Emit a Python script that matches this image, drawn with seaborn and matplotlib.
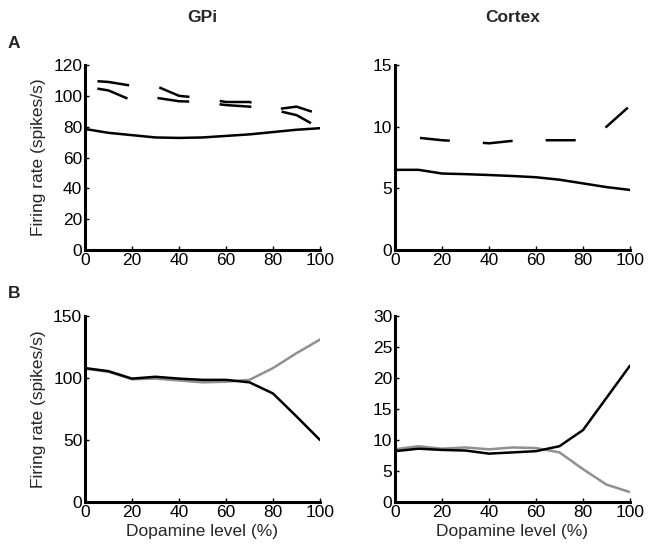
import numpy as np
import pandas as pd
import matplotlib
matplotlib.use("Agg")
import matplotlib.pyplot as plt
import seaborn as sns

# ---- data ----
dopamine = [0, 10, 20, 30, 40, 50, 60, 70, 80, 90, 100]

# Panel A, GPi
gpi_a_solid = [78.5, 76, 74.5, 73, 72.7, 73, 74, 75, 76.5, 78, 79]
gpi_a_dash_upper = [110, 109, 106.5, 106.5, 100, 98.5, 96, 96, 91, 93, 88]
gpi_a_dash_lower = [106, 103.5, 97, 98.8, 96.5, 96, 94, 93, 91, 87.5, 79]

# Panel A, Cortex
ctx_a_solid = [6.5, 6.5, 6.2, 6.15, 6.08, 6.0, 5.9, 5.7, 5.4, 5.1, 4.87]
ctx_a_dash = [9.2, 9.1, 8.9, 8.8, 8.65, 8.85, 8.9, 8.9, 8.9, 10.0, 11.7]

# Panel B, GPi
gpi_b_black = [108, 105.5, 99.5, 101, 99.5, 98.5, 98.5, 96.5, 87.5, 69, 50]
gpi_b_gray = [107.5, 105, 99, 99.5, 98, 96.5, 97, 98.5, 108, 120, 131]

# Panel B, Cortex
ctx_b_black = [8.2, 8.6, 8.4, 8.3, 7.8, 8.0, 8.2, 9.0, 11.6, 16.8, 22.0]
ctx_b_gray = [8.5, 9.0, 8.6, 8.8, 8.5, 8.8, 8.7, 8.0, 5.3, 2.8, 1.6]

col_titles = ["GPi", "Cortex"]
panel_letters = ["A", "B"]
ylims = [(0, 120), (0, 15), (0, 150), (0, 30)]
yticks = [[0, 20, 40, 60, 80, 100, 120], [0, 5, 10, 15],
          [0, 50, 100, 150], [0, 5, 10, 15, 20, 25, 30]]
xticks = [0, 20, 40, 60, 80, 100]

# ---- style ----
sns.set_style("ticks")
plt.rcParams['font.family'] = ['Liberation Sans', 'DejaVu Sans']
plt.rcParams['lines.scale_dashes'] = False

fig = plt.figure(figsize=(6.5, 5.52), dpi=100)
W, H = 650, 552
def ax_at(x0, y0, x1, y1):
    return fig.add_axes([x0 / W, 1 - y1 / H, (x1 - x0) / W, (y1 - y0) / H])

ax_ga = ax_at(85, 65, 320, 250)
ax_ca = ax_at(395, 65, 630, 250)
ax_gb = ax_at(85, 316, 320, 502)
ax_cb = ax_at(395, 316, 630, 502)
axes = [ax_ga, ax_ca, ax_gb, ax_cb]

LW = 1.8
GRAY = "#909090"

def line(ax, y, color="black", ls=None):
    df = pd.DataFrame({"x": dopamine, "y": y})
    sns.lineplot(data=df, x="x", y="y", ax=ax, color=color, linewidth=LW)
    ln = ax.lines[-1]
    if ls is not None:
        ln.set_linestyle(ls)
        ln.set_dash_capstyle("butt")
    return ln

line(ax_ga, gpi_a_solid)
line(ax_ga, gpi_a_dash_upper, ls=(36, (23, 22)))
line(ax_ga, gpi_a_dash_lower, ls=(36, (23, 22)))

line(ax_ca, ctx_a_solid)
line(ax_ca, ctx_a_dash, ls=(27.4, (21.6, 23.8)))

line(ax_gb, gpi_b_gray, color=GRAY)
line(ax_gb, gpi_b_black)
line(ax_cb, ctx_b_gray, color=GRAY)
line(ax_cb, ctx_b_black)

for i, ax in enumerate(axes):
    ax.set_xlim(0, 100)
    ax.set_ylim(*ylims[i])
    ax.set_xticks(xticks)
    ax.set_yticks(yticks[i])
    ax.set_xlabel("")
    ax.set_ylabel("")
    for s in ["top", "right"]:
        ax.spines[s].set_visible(False)
    for s in ["left", "bottom"]:
        ax.spines[s].set_linewidth(2.2)
        ax.spines[s].set_color("black")
    ax.tick_params(direction="in", length=3, width=1, labelsize=12.5, pad=2,
                   colors="black")
    ax.set_facecolor("none")

for ax in [ax_ga, ax_gb]:
    ax.set_ylabel("Firing rate (spikes/s)", fontsize=12.5, labelpad=5)
for ax in [ax_gb, ax_cb]:
    ax.set_xlabel("Dopamine level (%)", fontsize=12.5, labelpad=3)

fig.text(202 / W, 1 - 18 / H, col_titles[0], ha="center", va="center",
         fontsize=12.5, fontweight="bold")
fig.text(513 / W, 1 - 18 / H, col_titles[1], ha="center", va="center",
         fontsize=12.5, fontweight="bold")
fig.text(8 / W, 1 - 44 / H, panel_letters[0], ha="left", va="center",
         fontsize=12.5, fontweight="bold")
fig.text(8 / W, 1 - 294 / H, panel_letters[1], ha="left", va="center",
         fontsize=12.5, fontweight="bold")

fig.savefig("out.png", dpi=100, facecolor="white")
